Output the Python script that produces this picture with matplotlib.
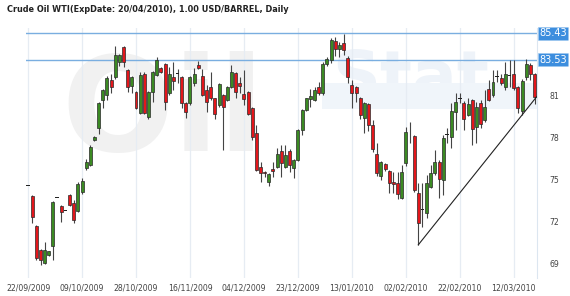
import numpy as np
import matplotlib
matplotlib.use("Agg")
import matplotlib.pyplot as plt

# daily candles, one per trading day from 22/09/2009
opens = [74.62, 73.83, 71.73, 70.00, 69.10, 69.65, 70.31, 73.75, 73.13, 72.80,
         73.91, 73.32, 72.80, 74.10, 75.81, 76.05, 77.82, 78.70, 80.66, 81.02,
         82.09, 82.32, 83.39, 84.45, 82.80, 81.68, 81.26, 79.77, 82.56, 79.44,
         81.26, 82.44, 82.96, 83.22, 81.14, 82.33, 82.56, 82.33, 80.43, 80.48,
         81.85, 83.15, 82.39, 81.38, 81.61, 80.79, 80.31, 81.02, 80.67, 81.57,
         82.61, 81.85, 81.09, 81.26, 80.08, 78.30, 75.93, 75.57, 74.82, 75.74,
         75.88, 77.06, 75.93, 77.04, 75.81, 76.40, 78.53, 79.96, 80.72, 80.67,
         81.57, 81.14, 83.27, 83.51, 84.88, 84.27, 84.70, 83.63, 81.73, 81.61,
         80.79, 79.37, 80.38, 78.89, 76.83, 75.29, 76.10, 75.64, 74.86, 74.75,
         73.72, 76.17, 78.11, 78.11, 74.03, 72.85, 72.61, 74.50, 75.46, 76.28,
         74.98, 78.23, 78.06, 79.83, 80.77, 80.43, 79.64, 80.67, 78.77, 80.43,
         79.25, 81.43, 81.02, 82.35, 82.25, 81.61, 82.44, 82.54, 81.61, 79.90,
         82.30, 83.15, 82.51]
highs = [74.62, 73.88, 71.80, 70.10, 70.55, 69.95, 73.45, 73.75, 73.20, 72.80,
         73.95, 73.56, 74.84, 75.14, 76.47, 77.45, 78.10, 80.50, 81.45, 82.37,
         82.56, 84.50, 83.95, 84.50, 82.90, 82.35, 81.35, 82.68, 82.65, 81.35,
         82.75, 83.75, 83.05, 83.30, 83.03, 83.39, 82.85, 82.40, 80.50, 82.35,
         82.92, 83.46, 82.85, 81.73, 82.66, 80.85, 81.85, 81.10, 81.70, 83.15,
         82.70, 82.32, 82.80, 81.35, 80.15, 78.89, 76.28, 75.65, 75.50, 76.28,
         77.25, 77.47, 77.47, 77.15, 76.50, 78.60, 80.05, 80.85, 81.43, 81.60,
         81.97, 83.35, 83.70, 85.10, 85.14, 84.81, 85.40, 83.80, 82.09, 81.70,
         80.90, 80.50, 80.45, 79.25, 77.60, 76.35, 76.20, 75.70, 75.57, 75.57,
         76.05, 78.77, 79.13, 78.20, 74.75, 74.75, 75.34, 76.05, 77.11, 76.40,
         78.18, 78.65, 80.45, 81.14, 81.14, 80.60, 80.80, 80.75, 80.50, 80.67,
         81.38, 82.09, 82.80, 82.80, 82.56, 83.39, 83.51, 83.51, 81.70, 82.15,
         83.60, 83.30, 82.60]
lows = [74.62, 71.90, 69.30, 68.94, 69.00, 69.60, 69.30, 73.75, 72.02, 72.80,
        73.10, 71.90, 72.70, 74.00, 75.70, 75.95, 77.75, 78.25, 80.08, 80.70,
        81.14, 82.20, 83.10, 83.03, 81.26, 81.14, 80.00, 79.70, 79.70, 79.35,
        80.55, 82.35, 82.60, 79.96, 81.05, 81.38, 81.85, 80.08, 79.37, 80.30,
        81.70, 82.90, 80.95, 79.83, 80.70, 79.29, 80.20, 77.11, 80.60, 81.50,
        80.79, 81.14, 80.31, 79.60, 77.80, 75.60, 74.86, 75.20, 74.55, 75.21,
        75.80, 75.21, 75.85, 75.57, 75.10, 76.30, 78.18, 79.90, 80.20, 80.60,
        81.05, 81.05, 83.10, 83.30, 83.80, 83.74, 83.86, 81.85, 80.08, 80.55,
        79.30, 78.30, 78.50, 77.00, 75.27, 74.98, 75.60, 74.03, 74.03, 73.60,
        73.65, 76.00, 77.59, 74.10, 70.36, 71.66, 72.30, 74.40, 75.30, 73.68,
        73.91, 77.59, 77.23, 78.53, 80.45, 78.53, 79.50, 77.47, 77.59, 78.68,
        79.10, 80.60, 80.90, 81.97, 81.75, 81.40, 81.61, 81.40, 79.72, 79.60,
        82.09, 82.09, 80.40]
closes = [74.62, 72.37, 69.42, 69.30, 69.96, 69.90, 73.40, 73.75, 72.68, 72.80,
          73.20, 72.14, 74.70, 74.91, 76.28, 77.35, 78.06, 80.43, 81.38, 82.21,
          81.61, 83.86, 83.86, 83.39, 81.61, 82.28, 80.08, 82.44, 79.77, 81.26,
          82.68, 83.51, 82.68, 80.55, 82.56, 82.04, 82.56, 80.48, 79.83, 82.28,
          82.56, 82.96, 81.02, 80.55, 80.79, 79.67, 81.78, 80.19, 81.61, 82.68,
          81.26, 81.66, 80.72, 79.65, 78.06, 75.69, 75.46, 75.46, 75.41, 75.62,
          76.83, 76.17, 76.76, 76.05, 76.40, 78.53, 79.96, 80.79, 80.95, 81.38,
          81.14, 83.27, 83.56, 84.93, 84.34, 84.57, 84.22, 82.32, 81.18, 81.14,
          79.60, 80.43, 78.89, 77.16, 75.50, 76.28, 75.76, 74.79, 74.70, 73.99,
          75.57, 78.41, 78.11, 74.27, 71.95, 72.85, 74.75, 75.46, 76.28, 75.03,
          77.94, 78.23, 79.90, 80.55, 80.77, 79.30, 80.40, 78.60, 80.15, 79.00,
          80.19, 80.67, 81.97, 82.35, 81.85, 82.56, 82.44, 81.55, 80.12, 82.06,
          83.27, 82.56, 80.92]

date_labels = ["22/09/2009", "09/10/2009", "28/10/2009", "16/11/2009", "04/12/2009",
               "23/12/2009", "13/01/2010", "02/02/2010", "22/02/2010", "12/03/2010"]
label_every = 13
yticks = [69, 72, 75, 78, 81]
levels = [85.43, 83.53]
trend_x = [94, 122.5]
trend_y = [70.36, 80.90]

green = "#3b8a23"
red = "#e3161b"
edge = "#2a2a2a"

fig = plt.figure(figsize=(5.70, 2.96), dpi=100)
ax = fig.add_axes([26 / 570, 18 / 296, 511 / 570, 250 / 296])

# faint site watermark behind the candles
ax.text(0.07, 0.40, "Oil", transform=ax.transAxes, fontsize=95, fontweight="bold",
        color="#f1f1f1", ha="left", va="bottom", zorder=0)
ax.text(0.60, 0.66, "Stat", transform=ax.transAxes, fontsize=48, fontweight="bold",
        color="#eef3f9", ha="left", va="bottom", zorder=0)
ax.axhspan(80.0, 81.9, xmin=0.58, xmax=1.0, color="#f0f5fa", linewidth=0, zorder=0)

x = np.arange(len(opens))
o = np.array(opens)
c = np.array(closes)
h = np.array(highs)
l = np.array(lows)

# wicks
ax.vlines(x, l, h, color="#444444", linewidth=0.8, zorder=3)

# bodies
up = c > o
down = c < o
flat = c == o
body_w = 0.72
ax.bar(x[up], (c - o)[up], bottom=o[up], width=body_w, color=green,
       edgecolor=edge, linewidth=0.5, zorder=4)
ax.bar(x[down], (o - c)[down], bottom=c[down], width=body_w, color=red,
       edgecolor=edge, linewidth=0.5, zorder=4)
ax.bar(x[flat], 0.07, bottom=o[flat] - 0.035, width=0.9, color="#222222",
       linewidth=0, zorder=4)

# support line
ax.plot(trend_x, trend_y, color="#222222", linewidth=0.8, zorder=5)

# horizontal levels with price boxes
for lv in levels:
    ax.axhline(lv, color="#7aaee0", linewidth=1.0, zorder=2)
    ax.text(1.004, lv, f"{lv:.2f}", transform=ax.get_yaxis_transform(),
            ha="left", va="center", fontsize=7, color="white", zorder=6,
            bbox=dict(boxstyle="square,pad=0.15", facecolor="#3d8ede",
                      edgecolor="#9cc7f0", linestyle=":", linewidth=0.6),
            clip_on=False)

ax.set_xlim(-0.5, 122.6)
ax.set_ylim(68.0, 85.8)

ax.set_xticks(np.arange(len(date_labels)) * label_every)
ax.set_xticklabels(date_labels)
ax.set_yticks(yticks)
ax.yaxis.tick_right()
ax.tick_params(axis="both", length=0, labelsize=5.6, labelcolor="#444444")
ax.tick_params(axis="x", pad=4)
ax.tick_params(axis="y", pad=9)

ax.grid(axis="x", color="#e6ecf3", linewidth=0.9)
ax.set_axisbelow(True)
for side in ["top", "left", "bottom"]:
    ax.spines[side].set_visible(False)
ax.spines["right"].set_color("#dce6f0")

fig.text(7 / 570, 1 - 10 / 296, "Crude Oil WTI(ExpDate: 20/04/2010), 1.00 USD/BARREL, Daily",
         fontsize=5.9, fontweight="bold", color="#222222", ha="left", va="center")

fig.savefig("out.png", dpi=100, facecolor="white")
